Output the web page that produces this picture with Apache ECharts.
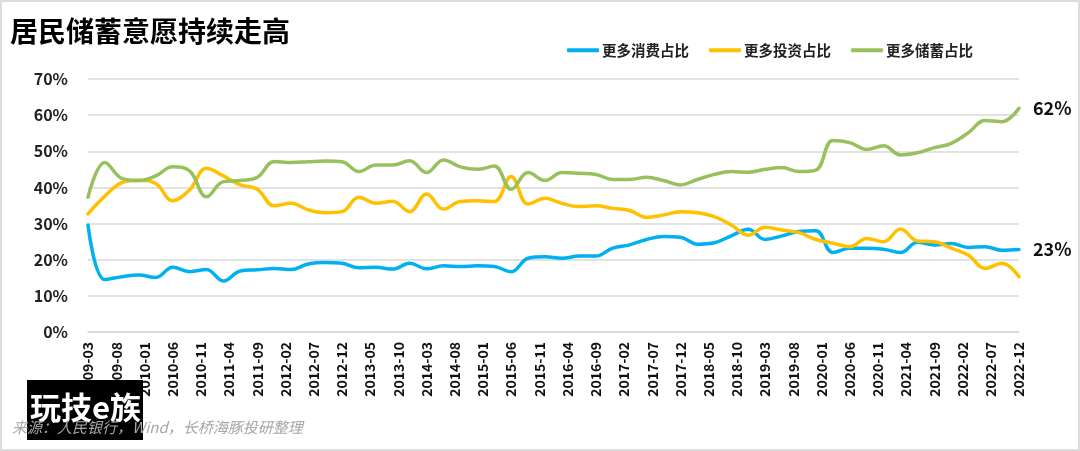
<!DOCTYPE html>
<html>
<head>
<meta charset="utf-8">
<script src="https://cdn.jsdelivr.net/npm/echarts@6/dist/echarts.min.js"></script>
<style>
html,body{margin:0;padding:0;background:#fff;}
#wrap{width:1080px;height:451px;box-sizing:border-box;border:2px solid #dcdcdc;position:relative;}
#chart{position:absolute;left:-2px;top:-2px;width:1080px;height:451px;}
</style>
</head>
<body>
<div id="wrap"><div id="chart"></div></div>
<script>
// Monthly category labels 2009-03 .. 2022-12
const months = [];
for (let y = 2009; y <= 2022; y++) {
  for (let m = 1; m <= 12; m++) {
    if (y === 2009 && m < 3) continue;
    months.push(y + '-' + (m < 10 ? '0' + m : '' + m));
  }
}
// Quarterly observation months
const quarters = [];
for (let y = 2009; y <= 2022; y++) {
  ['03', '06', '09', '12'].forEach(m => quarters.push(y + '-' + m));
}

const consumption = [29.6,14.5,15.3,15.8,15.1,17.9,16.7,17.3,14.1,16.9,17.2,17.6,17.3,18.8,19.2,19.0,17.8,17.9,17.4,19.0,17.5,18.3,18.1,18.3,18.1,16.7,20.4,20.8,20.4,21.0,21.0,23.2,24.1,25.6,26.4,26.2,24.3,24.7,26.6,28.4,25.6,26.6,27.8,28.0,22.0,23.2,23.2,22.9,22.0,24.8,24.1,24.5,23.4,23.6,22.6,22.8];
const investment = [32.7,37.6,41.3,42.0,41.1,36.3,39.3,45.3,43.2,40.7,39.5,34.9,35.6,33.8,33.0,33.3,37.3,35.6,36.2,33.3,38.2,34.0,36.1,36.3,36.1,43.0,35.4,37.0,35.6,34.7,34.9,34.2,33.6,31.7,32.4,33.3,33.0,31.9,29.6,26.8,29.0,28.2,27.5,25.6,24.6,23.6,25.9,25.0,28.5,25.2,25.0,23.2,21.3,17.6,19.0,15.3];
const savings = [37.3,46.9,42.5,41.9,43.2,45.7,44.6,37.4,41.6,41.9,42.8,47.2,46.9,47.1,47.3,47.1,44.4,46.2,46.2,47.4,44.1,47.6,45.7,45.0,45.9,39.5,44.1,41.9,44.1,43.9,43.6,42.2,42.2,42.8,41.9,40.7,42.2,43.6,44.4,44.2,45.0,45.5,44.4,44.8,53.0,52.4,50.5,51.5,49.0,49.6,51.0,52.2,55.1,58.5,58.2,61.9];

const seriesNames = ['更多消费占比', '更多投资占比', '更多储蓄占比'];
const colors = ['#00B0F0', '#FFC000', '#98C05C'];
const yTicks = [0, 10, 20, 30, 40, 50, 60, 70];

const pair = arr => arr.map((v, i) => [quarters[i], v]);
const FONT = '"Noto Sans CJK SC", "Noto Sans", sans-serif';

const chart = echarts.init(document.getElementById('chart'));
function mkSeries(name, arr, color, showEnd) {
  return {
    name: name, type: 'line', data: pair(arr), smooth: 0.4,
    showSymbol: false, symbol: 'none',
    lineStyle: { width: 3.5, color: color, cap: 'round' },
    itemStyle: { color: color },
    emphasis: { disabled: true },
    endLabel: {
      show: showEnd, distance: 14,
      formatter: p => Math.round(p.value[1]) + '%',
      fontFamily: FONT, fontSize: 18, fontWeight: 'bold', color: '#111'
    }
  };
}
chart.setOption({
  animation: false,
  backgroundColor: 'transparent',
  title: {
    text: '居民储蓄意愿持续走高', left: 5, top: 12,
    textStyle: { fontFamily: FONT, fontSize: 28, fontWeight: 'bold', color: '#000' }
  },
  legend: {
    data: seriesNames.map(n => ({ name: n, icon: 'roundRect' })),
    left: 562, top: 38, itemWidth: 32, itemHeight: 4, itemGap: 20,
    textStyle: { fontFamily: FONT, fontSize: 14.5, fontWeight: 'bold', color: '#222', padding: [0, 0, 0, -2] }
  },
  grid: { left: 88, right: 61, top: 79, bottom: 119, containLabel: false },
  xAxis: {
    type: 'category', data: months, boundaryGap: false,
    axisLine: { show: true, lineStyle: { color: '#d9d9d9', width: 1.5 } },
    axisTick: { show: false },
    axisLabel: {
      interval: 4, rotate: 90, margin: 10,
      fontFamily: FONT, fontSize: 14, fontWeight: 'bold', color: '#111'
    },
    splitLine: { show: false }
  },
  yAxis: {
    type: 'value', min: yTicks[0], max: yTicks[yTicks.length - 1], interval: 10,
    axisLine: { show: false }, axisTick: { show: false },
    axisLabel: {
      formatter: '{value}%', margin: 20,
      fontFamily: FONT, fontSize: 16, fontWeight: 'bold', color: '#222'
    },
    splitLine: { lineStyle: { color: '#d9d9d9', width: 1.5 } }
  },
  series: [
    mkSeries(seriesNames[0], consumption, colors[0], true),
    mkSeries(seriesNames[1], investment, colors[1], false),
    mkSeries(seriesNames[2], savings, colors[2], true)
  ],
  graphic: [
    { type: 'rect', left: 27, top: 380, shape: { width: 116, height: 60 }, style: { fill: '#000' }, z: 10 },
    { type: 'text', left: 30, top: 392, style: { text: '玩技e族', fill: '#fff', font: 'bold 31px "Noto Sans CJK SC", sans-serif' }, z: 11 },
    { type: 'text', left: 12, top: 420, style: { text: '来源：人民银行，Wind，长桥海豚投研整理', fill: '#a6a6a6', font: 'italic 15px "Noto Sans CJK SC", sans-serif' }, z: 12 }
  ]
});
</script>
</body>
</html>
